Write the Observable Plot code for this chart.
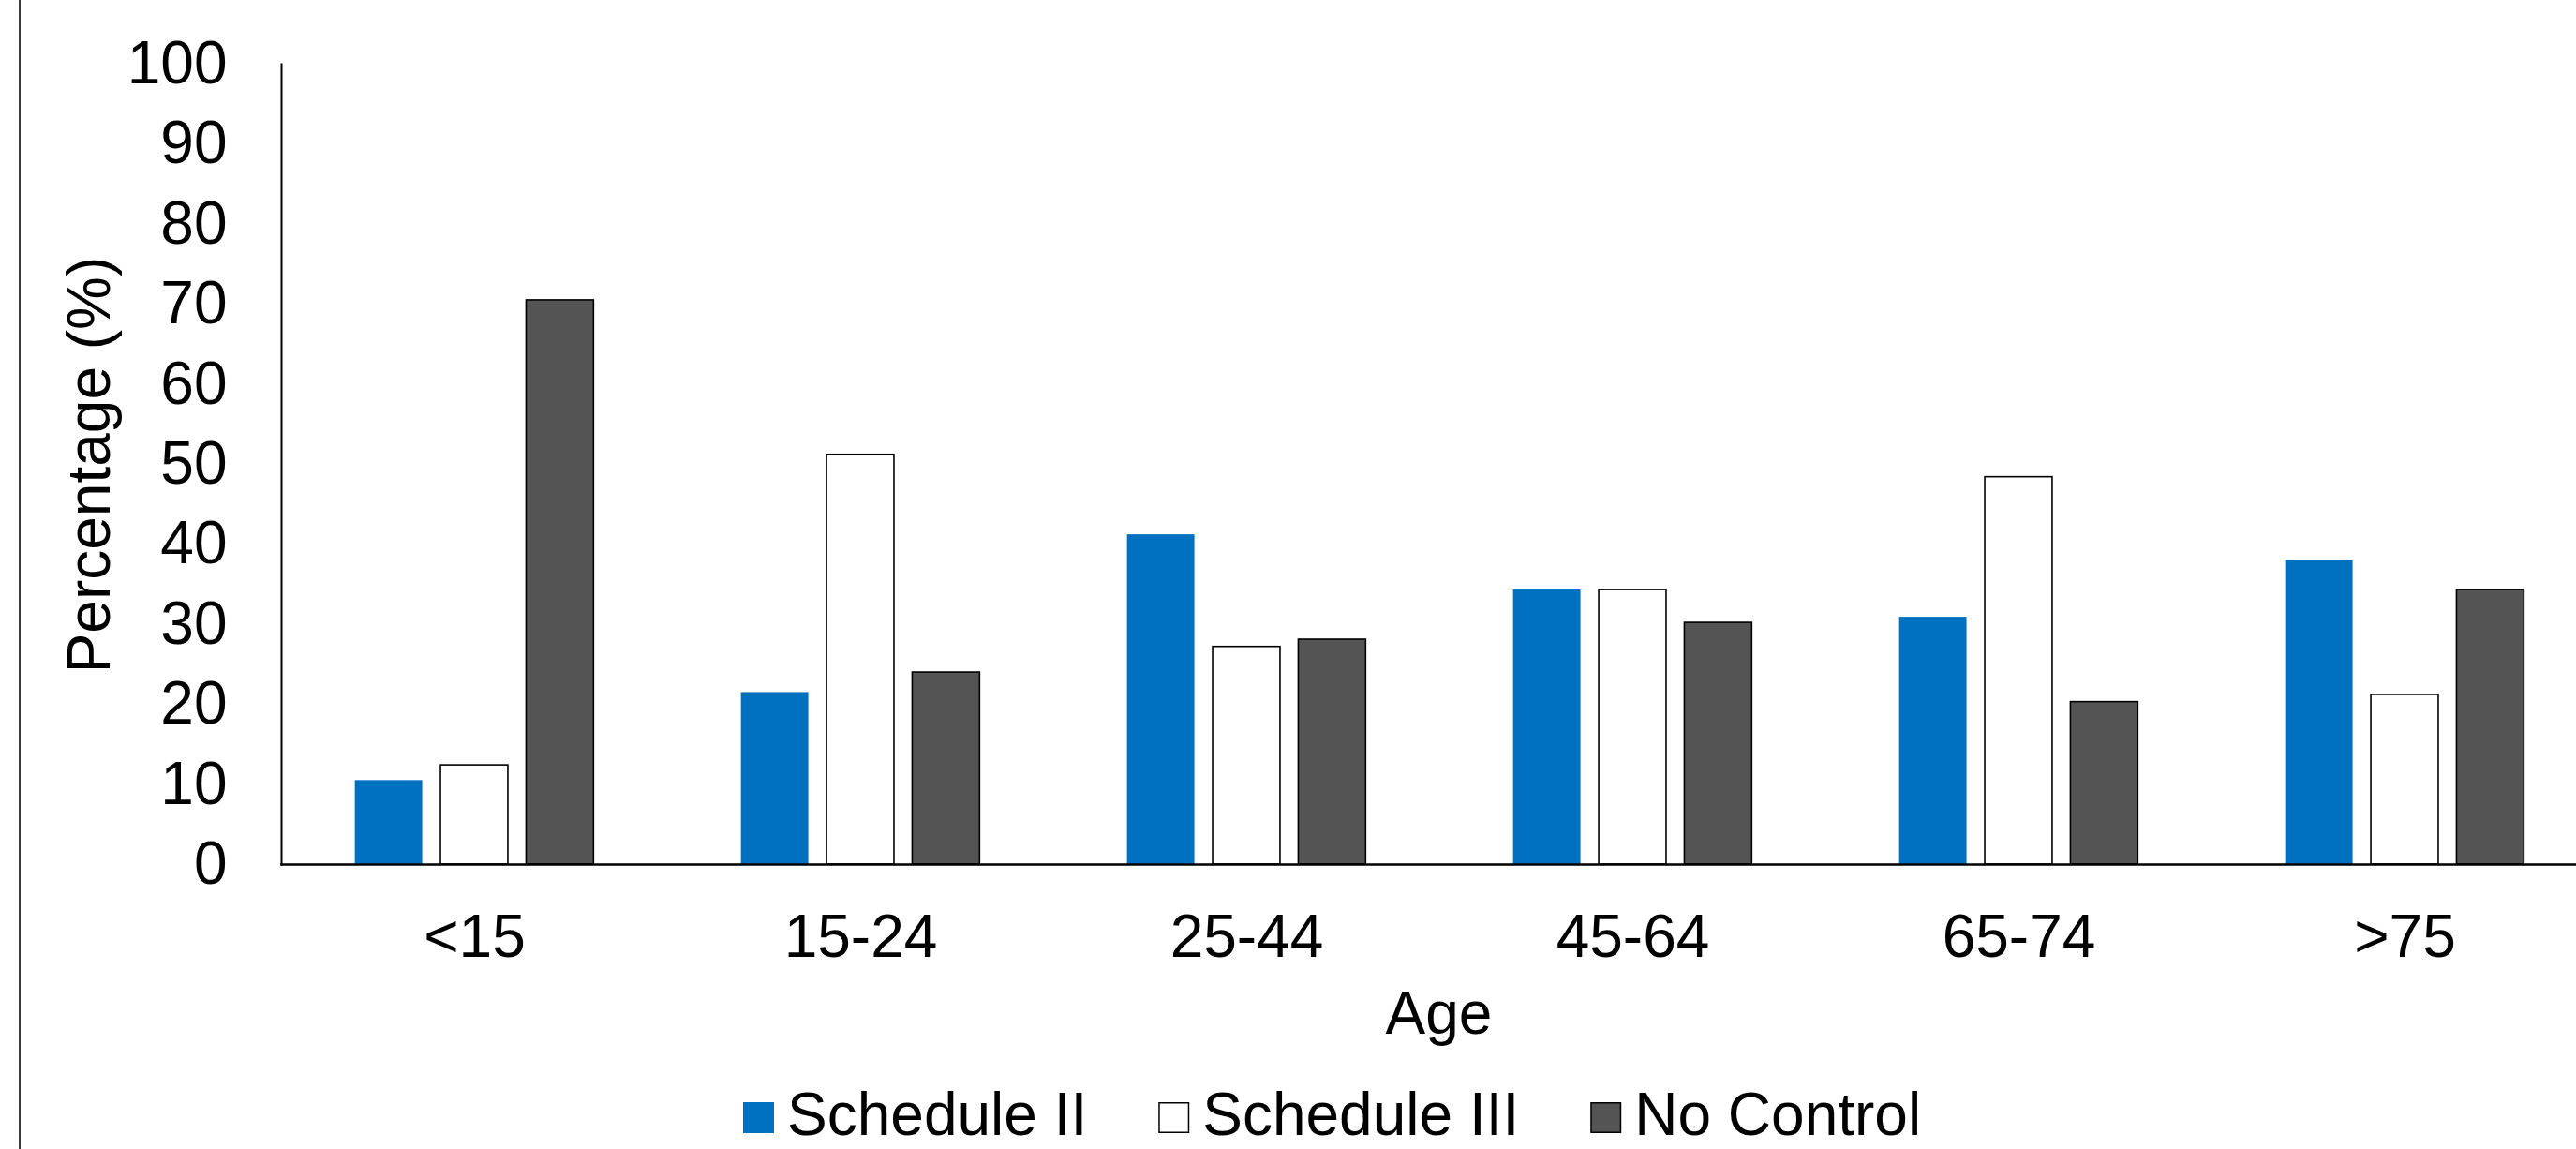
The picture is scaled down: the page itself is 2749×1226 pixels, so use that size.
<!DOCTYPE html>
<html>
<head>
<meta charset="utf-8">
<script src="https://cdn.jsdelivr.net/npm/d3@7"></script>
<script src="https://cdn.jsdelivr.net/npm/@observablehq/plot@0.6"></script>
<style>
  html, body { margin: 0; padding: 0; background: #fff; overflow: hidden; width: 2749px; height: 1226px; }
  #wrap { position: relative; width: 2749px; height: 1226px; overflow: hidden; font-family: "Liberation Sans", Arial, sans-serif; }
  #border { position: absolute; left: 20px; top: 0; width: 2px; height: 1226px; background: #3c3c3c; }
  #chart { position: absolute; left: 0; top: 0; width: 2773px; }
  #overlay { position: absolute; left: 0; top: 0; }
</style>
</head>
<body>
<div id="wrap">
  <div id="border"></div>
  <div id="chart"></div>
  <svg id="overlay" width="2749" height="1226"></svg>
</div>
<script>
// ---- data ----
const ages = ["<15", "15-24", "25-44", "45-64", "65-74", ">75"];
const series = ["Schedule II", "Schedule III", "No Control"];
const scheduleII  = [10.5, 21.5, 41.2, 34.3, 30.9, 38.0];
const scheduleIII = [12.4, 51.2, 27.2, 34.3, 48.4, 21.2];
const noControl   = [70.5, 24.0, 28.1, 30.2, 20.3, 34.3];
const yTicks = [0, 10, 20, 30, 40, 50, 60, 70, 80, 90, 100];
const seriesColors = ["#0070C0", "#FFFFFF", "#545454"];
const yTitle = "Percentage (%)";
const xTitle = "Age";

const values = [scheduleII, scheduleIII, noControl];
const rows = ages.flatMap((age, i) => series.map((s, j) => ({age, series: s, value: values[j][i]})));

const FONT = "'Liberation Sans', Arial, sans-serif";

const chart = Plot.plot({
  width: 2773,
  height: 1060,
  marginLeft: 298,
  marginRight: 0,
  marginTop: 68,
  marginBottom: 138,
  style: {fontFamily: FONT, fontSize: "64px", color: "#000", background: "transparent", maxWidth: "none"},
  fx: {domain: ages, padding: 0},
  x: {domain: series, paddingInner: 0.2131, paddingOuter: 0.8607, round: false, axis: null},
  y: {domain: [0, 100]},
  color: {domain: series, range: seriesColors},
  marks: [
    Plot.barY(rows, {filter: d => d.series === series[0], fx: "age", x: "series", y: "value", fill: "series"}),
    Plot.barY(rows, {filter: d => d.series !== series[0], fx: "age", x: "series", y: "value", fill: "series", stroke: "#000", strokeWidth: 1.6}),
    Plot.frame({anchor: "bottom", facet: "super", stroke: "#000", strokeWidth: 2.5}),
    Plot.frame({anchor: "left", facet: "super", stroke: "#000", strokeWidth: 2}),
    Plot.axisY({ticks: yTicks, tickSize: 0, tickPadding: 58, label: null, fontSize: 64}),
    Plot.axisFx({anchor: "bottom", tickSize: 0, tickPadding: 53, label: null, fontSize: 64})
  ]
});
document.getElementById("chart").appendChild(chart);

// ---- titles and legend ----
const ov = d3.select("#overlay").style("font-family", FONT).style("font-size", "64px");

ov.append("text")
  .attr("transform", "translate(117,496) rotate(-90)")
  .attr("text-anchor", "middle")
  .attr("fill", "#000")
  .text(yTitle);

ov.append("text")
  .attr("x", 1535.5)
  .attr("y", 1103)
  .attr("text-anchor", "middle")
  .attr("fill", "#000")
  .text(xTitle);

const leg = ov.append("g");
let lx = 793;
series.forEach((s, j) => {
  const g = leg.append("g");
  g.append("rect")
    .attr("x", lx + (j === 0 ? 0 : 0.75))
    .attr("y", 1176 + (j === 0 ? 0 : 0.75))
    .attr("width", j === 0 ? 33 : 31.5)
    .attr("height", j === 0 ? 33 : 31.5)
    .attr("fill", seriesColors[j])
    .attr("stroke", j === 0 ? "none" : "#000")
    .attr("stroke-width", 1.5);
  const t = g.append("text")
    .attr("x", lx + 47)
    .attr("y", 1211)
    .attr("fill", "#000")
    .text(s);
  const w = t.node().getComputedTextLength();
  lx = lx + 47 + w + 76;
});
</script>
</body>
</html>
